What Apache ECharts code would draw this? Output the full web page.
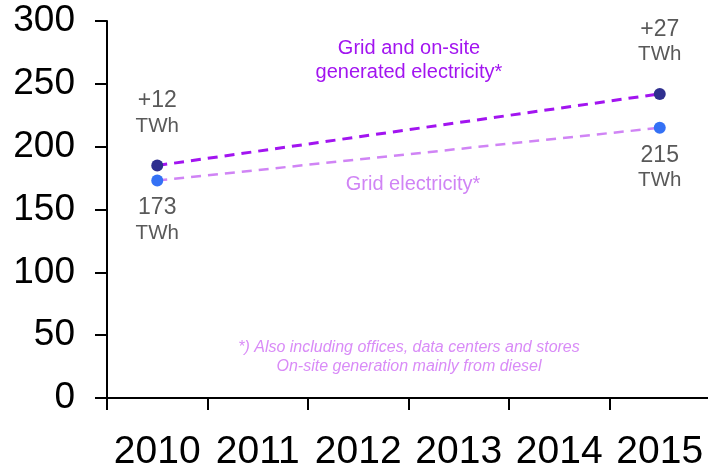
<!DOCTYPE html>
<html>
<head>
<meta charset="utf-8">
<script src="https://cdn.jsdelivr.net/npm/echarts@6/dist/echarts.min.js"></script>
<style>
html,body{margin:0;padding:0;background:#fff;}
#chart{width:708px;height:469px;}
</style>
</head>
<body>
<div id="chart"></div>
<script>
var years = ['2010', '2011', '2012', '2013', '2014', '2015'];
var gridAndOnsite = [185, null, null, null, null, 242];
var gridOnly = [173, null, null, null, null, 215];
var topLabels = ['+12', '', '', '', '', '+27'];
var bottomLabels = ['173', '', '', '', '', '215'];
var yTicks = { min: 0, max: 300, interval: 50 };

var FONT = 'Liberation Sans, Arial, sans-serif';

function mkData(vals, labels) {
  return vals.map(function (v, i) {
    return { value: v, name: labels[i] };
  });
}

var rich = {
  a: { fontSize: 23, color: '#595959', fontFamily: FONT, lineHeight: 25, align: 'center' },
  b: { fontSize: 20.5, color: '#595959', fontFamily: FONT, lineHeight: 25, align: 'center' }
};

var chart = echarts.init(document.getElementById('chart'));
chart.setOption({
  animation: false,
  grid: { left: 107, width: 603, top: 21, bottom: 71, containLabel: false, outerBoundsMode: 'none' },
  xAxis: {
    type: 'category',
    data: years,
    boundaryGap: true,
    axisLine: { show: true, lineStyle: { color: '#000', width: 2 } },
    axisTick: { show: true, length: 12, alignWithLabel: false, lineStyle: { color: '#000', width: 2 } },
    axisLabel: { color: '#000', fontSize: 39, fontFamily: FONT, margin: 35, interval: 0 },
    splitLine: { show: false }
  },
  yAxis: {
    type: 'value',
    min: yTicks.min,
    max: yTicks.max,
    interval: yTicks.interval,
    axisLine: { show: true, lineStyle: { color: '#000', width: 2 } },
    axisTick: { show: true, length: 12, lineStyle: { color: '#000', width: 2 } },
    axisLabel: { color: '#000', fontSize: 37, fontFamily: FONT, margin: 32 },
    splitLine: { show: false }
  },
  series: [
    {
      type: 'line',
      connectNulls: true,
      data: mkData(gridAndOnsite, topLabels),
      symbol: 'circle',
      symbolSize: 12,
      itemStyle: { color: '#2f2f8f' },
      lineStyle: { color: '#a214f0', width: 3, type: [10, 7] },
      label: {
        show: true,
        position: 'top',
        distance: 21,
        formatter: function (p) { return '{a|' + p.name + '}\n{b|TWh}'; },
        rich: rich
      },
      z: 3
    },
    {
      type: 'line',
      connectNulls: true,
      data: mkData(gridOnly, bottomLabels),
      symbol: 'circle',
      symbolSize: 12,
      itemStyle: { color: '#3471f5' },
      lineStyle: { color: '#d084f5', width: 2.5, type: [10, 7] },
      label: {
        show: true,
        position: 'bottom',
        distance: 9,
        formatter: function (p) { return '{a|' + p.name + '}\n{b|TWh}'; },
        rich: rich
      },
      z: 2
    }
  ],
  graphic: [
    {
      type: 'text', x: 409, y: 36,
      style: {
        text: 'Grid and on-site\ngenerated electricity*',
        fill: '#a214f0', font: '20px ' + FONT, textAlign: 'center', lineHeight: 24
      }
    },
    {
      type: 'text', x: 413, y: 172,
      style: {
        text: 'Grid electricity*',
        fill: '#d084f5', font: '20px ' + FONT, textAlign: 'center', lineHeight: 24
      }
    },
    {
      type: 'text', x: 409, y: 338,
      style: {
        text: '*) Also including offices, data centers and stores\nOn-site generation mainly from diesel',
        fill: '#d98cf7', font: 'italic 16px ' + FONT, textAlign: 'center', lineHeight: 19
      }
    }
  ]
});
</script>
</body>
</html>
